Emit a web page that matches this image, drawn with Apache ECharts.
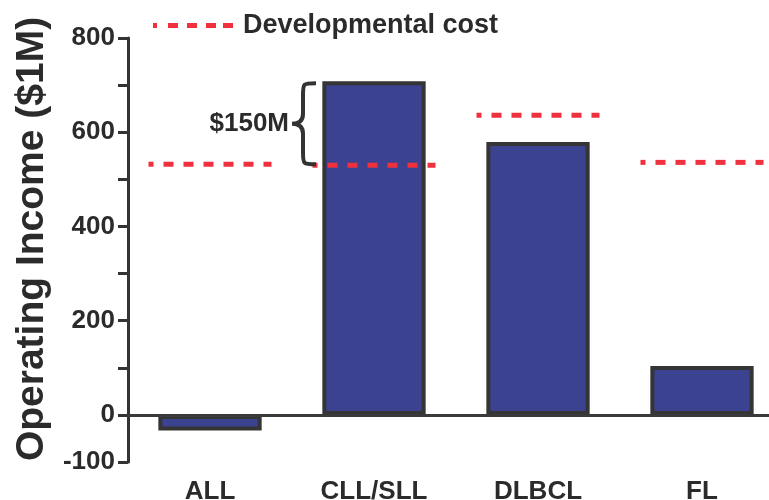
<!DOCTYPE html>
<html>
<head>
<meta charset="utf-8">
<script src="https://cdn.jsdelivr.net/npm/echarts@6/dist/echarts.min.js"></script>
<style>
    html, body { margin: 0; padding: 0; background: #fff; }
    #chart { width: 769px; height: 500px; }
</style>
</head>
<body>
<div id="chart"></div>
<script>
// data
const categories = ["ALL", "CLL/SLL", "DLBCL", "FL"];
const incomeValues = [-33, 708, 579, 104];
const devCostValues = [532, 530, 636, 536];
const yTickLabels = [-100, 0, 200, 400, 600, 800];
// brace between cost line and bar top for CLL/SLL
const braceCategory = 1;
const braceRange = [530, 708];
const braceLabel = "$150M";

const FONT = "Liberation Sans, Arial, Helvetica, sans-serif";
const TEXT = "#2b2b2b";
const RED = "#f0303c";

const chart = echarts.init(document.getElementById("chart"));

// dash icon for legend (small dot + dashes)
const dashIcon = "path://M0,0h4v5h-4z M15,0h10v5h-10z M34,0h10v5h-10z M53,0h10v5h-10z M70,0h10v5h-10z";

const costLine = (params, api) => {
    const c = api.coord([api.value(0), api.value(1)]);
    const w = api.size([1, 0])[0] * 0.75;
    return {
        type: "line",
        shape: { x1: c[0] - w / 2, y1: c[1], x2: c[0] + w / 2, y2: c[1] },
        style: { stroke: RED, lineWidth: 5, lineDash: [10, 10], lineDashOffset: 5 },
    };
};

const brace = (params, api) => {
    const top = api.coord([api.value(0), api.value(2)]);
    const bot = api.coord([api.value(0), api.value(1)]);
    const band = api.size([1, 0])[0];
    const tipX = top[0] - band / 2;
    const stemX = tipX + 11;
    const endX = tipX + 24;
    const y0 = top[1] + 2;
    const y1 = bot[1] - 1;
    const ym = (y0 + y1) / 2;
    const d =
        `M${endX},${y0} C${stemX},${y0} ${stemX},${y0} ${stemX},${y0 + 12} ` +
        `L${stemX},${ym - 10} Q${stemX},${ym} ${tipX},${ym} ` +
        `Q${stemX},${ym} ${stemX},${ym + 10} L${stemX},${y1 - 12} ` +
        `C${stemX},${y1} ${stemX},${y1} ${endX},${y1}`;
    return {
        type: "group",
        children: [
            {
                type: "path",
                shape: { pathData: d },
                style: { fill: "none", stroke: "#333", lineWidth: 4 },
            },
            {
                type: "text",
                style: {
                    text: braceLabel,
                    x: tipX - 3,
                    y: ym,
                    align: "right",
                    verticalAlign: "middle",
                    fontSize: 26,
                    fontWeight: "bold",
                    fontFamily: FONT,
                    fill: TEXT,
                },
            },
        ],
    };
};

const option = {
    animation: false,
    backgroundColor: "#fff",
    grid: { left: 128, width: 656, top: 38, bottom: 38, containLabel: false, outerBoundsMode: "none" },
    legend: {
        left: 153,
        top: 12,
        padding: 0,
        itemWidth: 80,
        itemHeight: 5,
        itemGap: 10,
        data: [{ name: "Developmental cost", icon: dashIcon }],
        itemStyle: { borderWidth: 0 },
        textStyle: { fontSize: 27, fontWeight: "bold", fontFamily: FONT, color: TEXT, padding: [0, 0, 0, 5] },
    },
    xAxis: {
        type: "category",
        data: categories,
        axisLine: { show: false, onZero: false },
        axisTick: { show: false },
        axisLabel: { margin: 17, fontSize: 26, fontWeight: "bold", fontFamily: FONT, color: TEXT },
    },
    yAxis: {
        type: "value",
        min: -100,
        max: 800,
        interval: 100,
        name: "Operating Income ($1M)",
        nameLocation: "middle",
        nameRotate: 90,
        nameGap: 76,
        nameTextStyle: { fontSize: 39, fontWeight: "bold", fontFamily: FONT, color: TEXT, padding: [0, 0, 0, 22] },
        splitLine: { show: false },
        axisLine: { show: true, lineStyle: { color: "#333", width: 3 } },
        axisTick: { show: true, length: 10, lineStyle: { color: "#333", width: 3 } },
        axisLabel: {
            margin: 13,
            padding: [0, 0, 10, 0],
            fontSize: 26,
            fontWeight: "bold",
            fontFamily: FONT,
            color: TEXT,
            formatter: v => (yTickLabels.includes(v) ? String(v) : ""),
        },
    },
    series: [
        {
            type: "bar",
            data: incomeValues,
            barWidth: "63%",
            itemStyle: { color: "#3b4290", borderColor: "#353535", borderWidth: 4 },
            markLine: {
                silent: true,
                symbol: ["none", "none"],
                label: { show: false },
                lineStyle: { color: "#3a3a3a", width: 3, type: "solid" },
                data: [{ yAxis: 0 }],
            },
        },
        {
            name: "Developmental cost",
            type: "custom",
            z: 5,
            itemStyle: { color: RED },
            renderItem: costLine,
            encode: { x: 0, y: 1 },
            data: devCostValues.map((v, i) => [i, v]),
        },
        {
            type: "custom",
            z: 6,
            renderItem: brace,
            encode: { x: 0, y: [1, 2] },
            data: [[braceCategory, braceRange[0], braceRange[1]]],
        },
    ],
};

chart.setOption(option);
</script>
</body>
</html>
